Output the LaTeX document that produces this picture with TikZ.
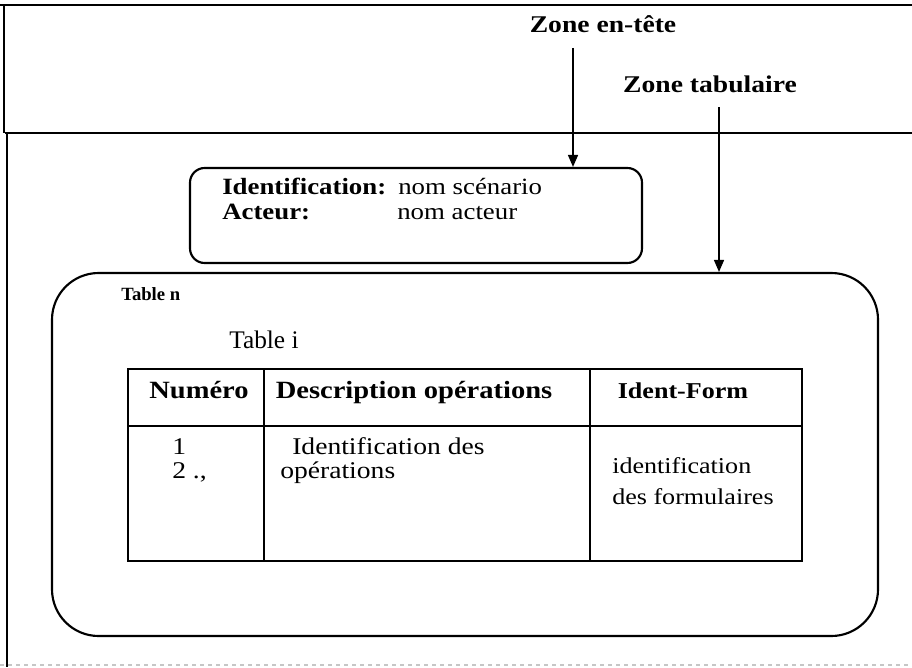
\documentclass[tikz,border=0pt]{standalone}
\usepackage{fontspec}
\setmainfont[FakeStretch=1.15]{Liberation Serif}
\newfontfamily\plainserif{Liberation Serif}
\usetikzlibrary{arrows.meta,fit}
\begin{document}
\begin{tikzpicture}[x=0.75pt,y=-0.75pt,
  frame/.style={line width=1.3pt},
  arr/.style={line width=1.1pt,-{Triangle[length=9pt,width=7.5pt]}},
  zonebox/.style={draw,line width=1.6pt,inner sep=0pt},
  cell/.style={draw,line width=1.5pt,inner sep=0pt},
  lbl/.style={anchor=base,inner sep=0pt,font=\fontsize{18}{21}\selectfont\bfseries},
  txt/.style={anchor=base west,inner sep=0pt,font=\fontsize{17.5}{20}\selectfont},
  body/.style={anchor=base west,inner sep=0pt,font=\fontsize{18}{21}\selectfont},
  bodys/.style={anchor=base west,inner sep=0pt,font=\fontsize{17}{20}\selectfont},
  head/.style={anchor=base,inner sep=0pt,font=\fontsize{18.6}{21}\selectfont\bfseries}]
\useasboundingbox (0,0) rectangle (912,667);

% page frame and the header / body separation
\draw[line width=1pt] (0,5) -- (912,5);
\draw[line width=0.8pt] (4,5) -- (4,133);
\draw[frame] (5,133) -- (912,133);
\draw[frame] (7,133) -- (7,667);
\draw[gray!45,line width=1pt,dashed] (0,665) -- (912,665);

% zone labels
\node[lbl] (zhead) at (603,33) {Zone en-tête};
\node[lbl] (ztab) at (710,92) {Zone tabulaire};

% header zone box
\node[zonebox,rounded corners=11pt,fit={(190,168) (642,263)}] (idbox) {};
\node[txt] (idlab) at (222,194) {\textbf{Identification:}};
\node[txt] (idval) at (398,194) {nom scénario};
\node[txt] (aclab) at (222,219) {\textbf{Acteur:}};
\node[txt] (acval) at (397,219) {nom acteur};

% tabular zone box
\node[zonebox,rounded corners=35pt,fit={(52,273) (878,636)}] (tabzone) {};

% arrows from the labels
\coordinate (a1) at (573,48);
\coordinate (a2) at (719,107);
\draw[arr] (a1) -- (a1 |- idbox.north);
\draw[arr] (a2) -- (a2 |- tabzone.north);

% table titles
\node[anchor=base west,inner sep=0pt,font=\plainserif\fontsize{14}{16}\selectfont\bfseries] (tn) at (121,300) {Table n};
\node[anchor=base west,inner sep=0pt,font=\plainserif\fontsize{19}{22}\selectfont] (ti) at (229,348) {Table i};

% table cells
\node[cell,fit={(128,369) (264,426)}] (h1) {};
\node[cell,fit={(264,369) (590,426)}] (h2) {};
\node[cell,fit={(590,369) (802,426)}] (h3) {};
\node[cell,fit={(128,426) (264,561)}] (c1) {};
\node[cell,fit={(264,426) (590,561)}] (c2) {};
\node[cell,fit={(590,426) (802,561)}] (c3) {};

% header row
\node[head] (tnum) at (199,398) {Numéro};
\node[head] (tdesc) at (414,398) {Description opérations};
\node[head,font=\fontsize{17}{20}\selectfont\bfseries] (tform) at (683,398) {Ident-Form};

% body row
\node[body] (n1) at (172,454) {1};
\node[body] (n2) at (172,478) {2 .,};
\node[body] (d1) at (292,454) {Identification des};
\node[body] (d2) at (280,478) {opérations};
\node[bodys] (f1) at (612,473) {identification};
\node[bodys] (f2) at (612,504) {des formulaires};
\end{tikzpicture}
\end{document}
